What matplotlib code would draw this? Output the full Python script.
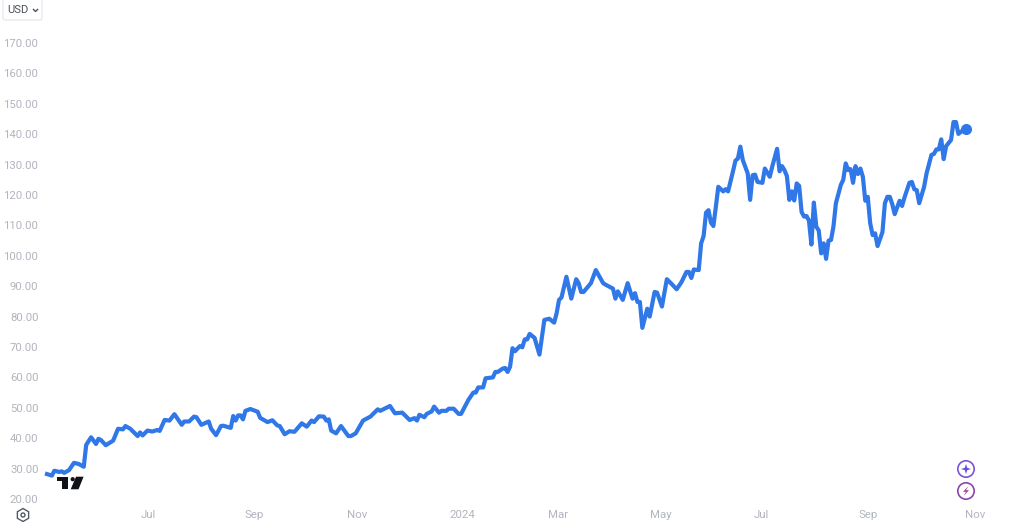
import matplotlib
matplotlib.use("Agg")
import matplotlib.pyplot as plt
from matplotlib.patches import Circle, FancyBboxPatch, Polygon, RegularPolygon

plt.rcParams['font.family'] = ['Roboto', 'DejaVu Sans']

# trading sessions since the first bar, and close in USD
sessions = [0, 2, 3, 5, 6, 7, 9, 11, 13, 15, 16, 18, 20, 21, 22, 24, 27, 29, 31, 32, 34, 37, 38, 39, 41, 43, 45, 46, 48, 50,
            52, 55, 56, 58, 60, 61, 63, 66, 67, 69, 71, 72, 75, 76, 77, 78, 79, 80, 81, 83, 86, 87, 90, 92, 94, 95, 97, 99, 101, 104,
            106, 108, 109, 111, 113, 114, 115, 116, 118, 120, 123, 124, 126, 129, 132, 135, 136, 140, 142, 145, 148, 150, 151, 152, 154, 155, 157, 158, 160, 161,
            163, 164, 166, 168, 169, 172, 174, 175, 176, 178, 179, 182, 183, 184, 186, 187, 188, 189, 190, 191, 193, 194, 195, 196, 197, 199, 201, 203, 205, 207,
            208, 209, 210, 212, 214, 216, 217, 218, 219, 222, 224, 227, 228, 231, 232, 233, 235, 237, 239, 240, 241, 242, 243, 245, 246, 248, 249, 251, 253, 255,
            257, 259, 261, 262, 263, 264, 266, 267, 268, 269, 270, 271, 272, 273, 274, 276, 277, 278, 280, 281, 282, 283, 284, 286, 287, 288, 289, 290, 292, 293,
            295, 296, 298, 299, 300, 301, 302, 303, 304, 305, 306, 307, 308, 309, 310, 311, 312, 313, 314, 315, 316, 317, 318, 319, 320, 321, 322, 324, 325, 326,
            327, 328, 329, 330, 331, 332, 333, 334, 335, 336, 337, 338, 339, 341, 342, 343, 344, 345, 346, 348, 349, 350, 352, 353, 354, 355, 356, 358, 359, 361,
            362, 363, 364, 365, 366, 367, 369, 370, 371, 372, 374, 375]
prices = [28.2, 27.7, 29.3, 28.9, 29.1, 28.6, 29.5, 31.9, 31.5, 30.6, 37.8, 40.3, 38.1, 39.8, 39.4, 37.7, 39.2, 43.1, 42.9, 44, 43.1, 40.7, 41.9, 40.9, 42.5, 42.2, 42.7, 42.4, 46, 45.8,
          47.9, 44.4, 45.5, 45.5, 47.1, 46.9, 44.4, 45.5, 43.1, 41, 44, 44.1, 43.4, 47.3, 45.8, 47.5, 47.5, 46.2, 49, 49.6, 48.7, 46.7, 45.3, 45.9, 44.2, 44, 41.3, 42.3, 42.1, 44.9,
          43.8, 45.8, 45.3, 47.2, 47.1, 45.8, 46.2, 42.5, 41.6, 44, 40.7, 40.7, 41.6, 45.8, 47.1, 49.5, 49, 50.6, 48.2, 48.4, 46, 46.6, 45.8, 47.7, 46.9, 48, 48.8, 50.4, 48.4, 49,
          49, 49.7, 49.7, 48, 48, 52.6, 55, 55, 56.7, 56.7, 59.7, 60, 61.8, 61.8, 62.9, 63.1, 61.8, 63.5, 69.6, 68.6, 70.3, 69.9, 72.5, 72.5, 74.3, 73, 67.5, 78.9, 79.3, 78,
          81.1, 85.5, 86.3, 93.1, 85.9, 92.3, 91, 88.1, 88.1, 91, 95.3, 91, 90.5, 89.2, 85.9, 88.3, 85.5, 91, 85.9, 87.7, 84.8, 84.8, 76.3, 82.6, 80, 88.1, 87.9, 83.3, 92.3, 90.7,
          89, 91.4, 94.7, 94.7, 92.7, 95.5, 95.3, 104.1, 106.5, 114.2, 115, 110.9, 109.8, 116.1, 122.7, 121.2, 121.9, 121.2, 127.8, 131.3, 132, 135.9, 131.5, 127.1, 118.4, 126.5, 126.7, 124.3, 124, 128.7,
          126, 129.3, 135.2, 127.8, 129.5, 128.2, 126.2, 118.4, 121.2, 118.2, 123.8, 123, 114.4, 112.9, 113.1, 111.6, 103.7, 117.5, 109.6, 108.3, 100.8, 104.1, 99, 105, 105.2, 109.6, 117.3, 123.3, 125, 130.4,
          128.2, 128.5, 124, 129.5, 126.9, 128.7, 126, 118.1, 119.4, 110.7, 106.8, 107.4, 103.2, 107.8, 117.3, 119.4, 119.4, 117, 113.7, 118.1, 116.4, 119.2, 124, 124.3, 121.9, 121.6, 117.3, 122.7, 127.1, 133.2,
          133.5, 135, 135, 138.3, 131.8, 136.1, 138.1, 144, 144, 140.1, 141.4, 141.6]

y_ticks = [20, 30, 40, 50, 60, 70, 80, 90, 100, 110, 120, 130, 140, 150, 160, 170]
x_tick_pos = [41.4, 84.7, 126.7, 169.7, 208.7, 250.7, 291.7, 335.3, 378.7]
x_tick_labels = ['Jul', 'Sep', 'Nov', '2024', 'Mar', 'May', 'Jul', 'Sep', 'Nov']

blue = '#3077E8'
grey = '#B2B5BE'

fig = plt.figure(figsize=(10.24, 5.22), dpi=100)
ax = fig.add_axes([44 / 1024, 17 / 522, 980 / 1024, 505 / 522])
ax.plot(sessions, prices, color=blue, lw=3.0, solid_joinstyle='round', clip_on=False)
ax.plot(sessions[-1], prices[-1], 'o', color=blue, ms=8, mec='none')

# 2.45 px a session, 3.04 px a dollar
ax.set_xlim(-3 / 2.45, 977 / 2.45)
ax.set_ylim(20 - 6 / 3.04, 20 + 499 / 3.04)
ax.set_yticks(y_ticks)
ax.set_yticklabels(['%.2f' % v for v in y_ticks])
ax.set_xticks(x_tick_pos)
ax.set_xticklabels(x_tick_labels)
ax.tick_params(axis='both', length=0, labelsize=8.2, labelcolor=grey)
ax.tick_params(axis='y', pad=4)
ax.tick_params(axis='x', pad=3.5)
for s in ax.spines.values():
    s.set_visible(False)

# chart furniture, in screen pixels
ov = fig.add_axes([0, 0, 1, 1])
ov.set_xlim(0, 1024)
ov.set_ylim(522, 0)
ov.axis('off')

ov.add_patch(FancyBboxPatch((3, -4), 39, 24, boxstyle='round,pad=0,rounding_size=2', fc='white', ec='#E3E5EC', lw=0.8))
ov.text(7, 10, 'USD', fontsize=8, color='#4A4E5A', va='center', ha='left')
ov.plot([33.5, 35.5, 37.5], [9.5, 11.5, 9.5], color='#4A4E5A', lw=1)

ov.add_patch(RegularPolygon((23, 515), 6, radius=6.5, fc='none', ec='#555964', lw=1))
ov.add_patch(Circle((23, 515), 2, fc='none', ec='#555964', lw=1))

logo = '#111218'
ov.add_patch(Polygon([(56.7, 476.7), (68.3, 476.7), (68.3, 489.3), (61.7, 489.3), (61.7, 481), (56.7, 481)], fc=logo, ec='none'))
ov.add_patch(Circle((72.7, 479.2), 2.1, fc=logo, ec='none'))
ov.add_patch(Polygon([(76, 476.7), (83.6, 476.7), (78.5, 489.3), (70.7, 489.3)], fc=logo, ec='none'))

ov.add_patch(Circle((966, 469), 8.2, fc='white', ec='#7A55D8', lw=1.2))
ov.add_patch(Polygon([(966, 464), (967.2, 467.8), (971, 469), (967.2, 470.2), (966, 474), (964.8, 470.2), (961, 469), (964.8, 467.8)], fc='#6C4BD8', ec='none'))
ov.add_patch(Circle((966, 491), 8.2, fc='white', ec='#8E44AD', lw=1.2))
ov.add_patch(Polygon([(968.5, 486), (963, 491.8), (966, 491.8), (963.5, 496), (969, 490.2), (966, 490.2)], fc='#A0408F', ec='none'))

fig.savefig('out.png', dpi=100)
